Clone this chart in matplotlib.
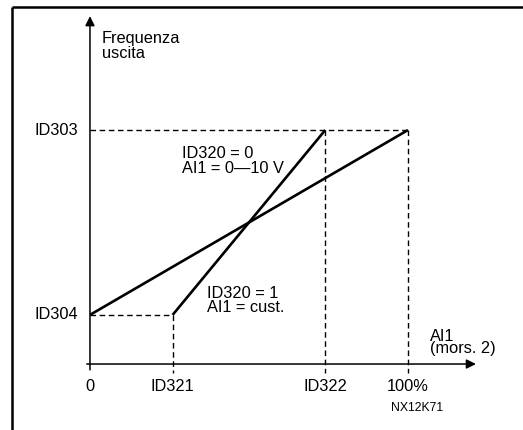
import matplotlib
matplotlib.use("Agg")
import matplotlib.pyplot as plt
from matplotlib.lines import Line2D

plt.rcParams['font.family'] = ['Liberation Sans', 'DejaVu Sans']

# ---- data (percent of full scale) ----
x_tick_pos = [0, 26, 74, 100]
x_tick_labels = ['0', 'ID321', 'ID322', '100%']
y_tick_pos = [21, 100]
y_tick_labels = ['ID304', 'ID303']

line0_x = [0, 100]      # ID320 = 0, AI1 = 0-10 V
line0_y = [21, 100]
line1_x = [26, 74]      # ID320 = 1, AI1 = cust.
line1_y = [21, 100]

W, H = 523, 430
fig = plt.figure(figsize=(W / 100, H / 100), dpi=100)
ax = fig.add_axes([0, 0, 1, 1])
ax.set_xlim(-28.3, 136.2)
ax.set_ylim(-28.2, 155.6)
ax.axis('off')

# outer frame (cropped box: top and left edges visible)
fig.add_artist(Line2D([12 / W, 1.0], [1 - 7 / H, 1 - 7 / H], transform=fig.transFigure,
                      color='black', lw=1.8, solid_capstyle='butt'))
fig.add_artist(Line2D([12 / W, 12 / W], [0, 1 - 7 / H], transform=fig.transFigure,
                      color='black', lw=1.8, solid_capstyle='butt'))

# axes with arrows
ax.annotate('', xy=(121.4, 0), xytext=(-1, 0),
            arrowprops=dict(arrowstyle='-|>', lw=1.1, color='black',
                            mutation_scale=14, shrinkA=0, shrinkB=0))
ax.annotate('', xy=(0, 148.7), xytext=(0, -2.5),
            arrowprops=dict(arrowstyle='-|>', lw=1.1, color='black',
                            mutation_scale=14, shrinkA=0, shrinkB=0))

dash = dict(color='black', lw=1.0, dashes=(4, 2.6))
# guide lines
ax.plot([0, x_tick_pos[3]], [y_tick_pos[1], y_tick_pos[1]], **dash)
ax.plot([0, x_tick_pos[1]], [y_tick_pos[0], y_tick_pos[0]], **dash)
ax.plot([x_tick_pos[1], x_tick_pos[1]], [y_tick_pos[0], -3.8], **dash)
ax.plot([x_tick_pos[2], x_tick_pos[2]], [y_tick_pos[1], -3.8], **dash)
ax.plot([x_tick_pos[3], x_tick_pos[3]], [y_tick_pos[1], -3.8], **dash)

# characteristic lines
ax.plot(line0_x, line0_y, color='black', lw=1.9, solid_capstyle='butt')
ax.plot(line1_x, line1_y, color='black', lw=1.9, solid_capstyle='butt')

fs = 11.8
for xp, lab in zip(x_tick_pos, x_tick_labels):
    ax.text(xp, -6.3, lab, ha='center', va='top', fontsize=fs)
for yp, lab in zip(y_tick_pos, y_tick_labels):
    ax.text(-3.6, yp, lab, ha='right', va='center', fontsize=fs)

ax.text(3.8, 142.5, 'Frequenza\nuscita', ha='left', va='top', fontsize=fs, linespacing=1.0)
ax.text(28.9, 93, 'ID320 = 0\nAI1 = 0—10 V', ha='left', va='top', fontsize=fs, linespacing=1.0)
ax.text(36.8, 33.5, 'ID320 = 1\nAI1 = cust.', ha='left', va='top', fontsize=fs, linespacing=0.95)
ax.text(107, 15, 'AI1\n(mors. 2)', ha='left', va='top', fontsize=fs, linespacing=0.78)
ax.text(103, -18.8, 'NX12K71', ha='center', va='center', fontsize=8.8)

fig.savefig('out.png', dpi=100)
